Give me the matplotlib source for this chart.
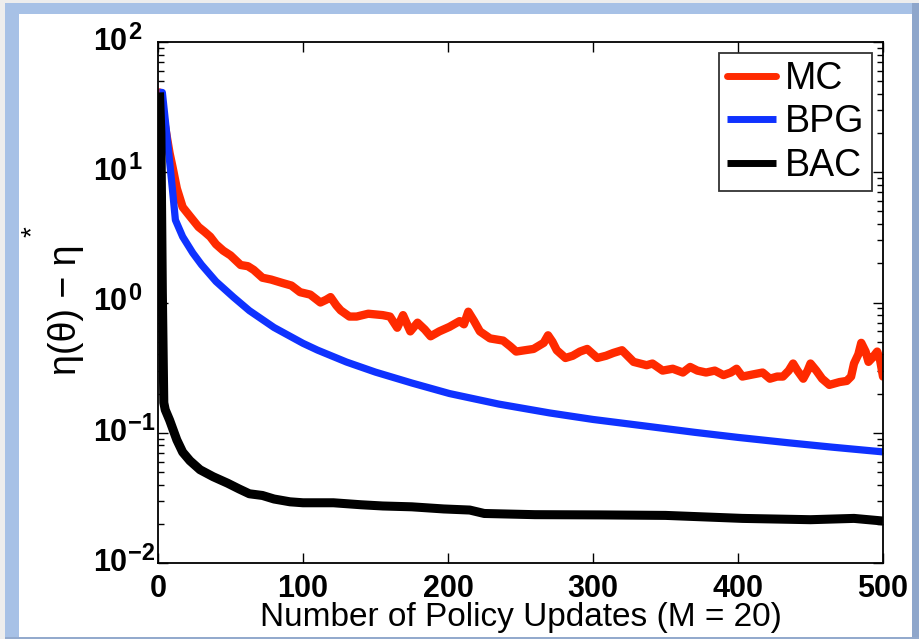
import matplotlib as mpl
mpl.use('Agg')
import matplotlib.pyplot as plt
from matplotlib.patches import Rectangle
from matplotlib.transforms import blended_transform_factory, offset_copy
from matplotlib.ticker import FixedLocator, LogLocator, NullFormatter

plt.rcParams['font.family'] = ['Liberation Sans', 'DejaVu Sans']

# learning curves, error vs number of policy updates
mc_x = [1, 5, 8, 10, 13, 17, 22, 28, 32, 36, 40, 45, 50, 57, 62, 66, 72, 78, 86, 92,
        98, 105, 112, 116, 119, 123, 126, 132, 137, 145, 155, 160, 165, 169, 174, 179, 184, 188, 194, 201,
        208, 211, 214, 218, 222, 229, 238, 243, 247, 253, 259, 266, 269, 272, 275, 281, 286, 291, 296, 303,
        309, 314, 320, 328, 337, 341, 348, 355, 362, 367, 372, 378, 384, 390, 395, 399, 403, 410, 417, 422,
        427, 431, 435, 438, 441, 445, 448, 450, 454, 458, 463, 470, 475, 478, 480, 483, 485, 488, 490, 493,
        496, 498, 500]
mc_y = [41, 22, 14, 11, 7.5, 5.4, 4.6, 3.8, 3.5, 3.2, 2.8, 2.5, 2.3, 1.94, 1.9, 1.78, 1.55, 1.5, 1.41, 1.35,
        1.2, 1.15, 1.0, 1.05, 1.1, 0.95, 0.87, 0.78, 0.78, 0.82, 0.8, 0.78, 0.64, 0.8, 0.6, 0.7, 0.62, 0.55, 0.6, 0.65,
        0.72, 0.68, 0.85, 0.72, 0.6, 0.53, 0.51, 0.46, 0.42, 0.43, 0.44, 0.49, 0.56, 0.5, 0.43, 0.375, 0.39, 0.42, 0.44, 0.375,
        0.39, 0.41, 0.43, 0.35, 0.33, 0.34, 0.30, 0.31, 0.29, 0.32, 0.30, 0.29, 0.30, 0.277, 0.29, 0.31, 0.27, 0.28, 0.29, 0.26,
        0.27, 0.27, 0.30, 0.34, 0.30, 0.26, 0.30, 0.34, 0.30, 0.26, 0.233, 0.245, 0.25, 0.27, 0.34, 0.40, 0.49, 0.42, 0.35, 0.38,
        0.42, 0.36, 0.27]

bpg_x = [1, 3, 7, 10, 12, 17, 24, 30, 40, 52, 63, 80, 100, 110, 130, 150, 175, 201, 235, 270,
         300, 335, 370, 400, 435, 465, 500]
bpg_y = [41, 41, 15.6, 7.3, 4.3, 3.2, 2.4, 1.95, 1.45, 1.1, 0.866, 0.643, 0.486, 0.431, 0.349, 0.292, 0.241, 0.2, 0.166, 0.142,
         0.1265, 0.113, 0.1008, 0.0921, 0.0837, 0.0775, 0.0713]

bac_x = [1, 2, 3, 4, 5, 8, 13, 17, 22, 29, 38, 48, 56, 63, 72, 80, 91, 100, 121, 140,
         155, 175, 197, 215, 225, 260, 305, 350, 403, 450, 480, 500]
bac_y = [41, 20, 1.2, 0.17, 0.15, 0.125, 0.088, 0.071, 0.061, 0.052, 0.046, 0.041, 0.037, 0.034, 0.033, 0.031, 0.0295, 0.029, 0.029, 0.028,
         0.0274, 0.027, 0.026, 0.0255, 0.024, 0.0235, 0.0234, 0.0232, 0.022, 0.0215, 0.022, 0.021]

decades = [-2, -1, 0, 1, 2]

W, H = 919, 639
fig = plt.figure(figsize=(W / 100, H / 100), dpi=100)


def px_rect(x0, y0, x1, y1, color):
    # rectangle given in pixels from the top-left corner
    fig.patches.append(Rectangle((x0 / W, 1 - y1 / H), (x1 - x0) / W, (y1 - y0) / H,
                                 transform=fig.transFigure, color=color, lw=0, zorder=-10))


# window frame
px_rect(0, 0, W, H, '#ededed')
px_rect(5, 3, W, H, '#a7c1e6')
px_rect(912, 3, W, H, '#8ea6cb')
px_rect(5, 637, W, H, '#93aacd')
px_rect(19, 14, 912, 637, 'white')

ax = fig.add_axes([158 / W, 1 - 563 / H, (883 - 158) / W, (563 - 42) / H])
ax.set_facecolor('white')

ax.plot(mc_x, mc_y, color='#ff2a00', lw=6, solid_capstyle='round', label='MC')
ax.plot(bpg_x, bpg_y, color='#0f32ff', lw=5.2, solid_capstyle='butt', label='BPG')
ax.plot(bac_x, bac_y, color='black', lw=6.5, solid_capstyle='butt', label='BAC')

ax.set_yscale('log')
ax.set_xlim(0, 500)
ax.set_ylim(1e-2, 1e2)
ax.xaxis.set_major_locator(FixedLocator([0, 100, 200, 300, 400, 500]))
ax.yaxis.set_major_locator(FixedLocator([10.0 ** d for d in decades]))
ax.yaxis.set_minor_locator(LogLocator(base=10, subs=range(2, 10)))
ax.yaxis.set_major_formatter(NullFormatter())
ax.yaxis.set_minor_formatter(NullFormatter())

ax.tick_params(which='both', direction='in', top=True, right=True, width=1)
ax.tick_params(which='major', length=7)
ax.tick_params(which='minor', length=4)
ax.tick_params(axis='x', labelsize=22, pad=8)
for t in ax.get_xticklabels():
    t.set_fontweight('bold')
for s in ax.spines.values():
    s.set_linewidth(1.3)

# y tick labels: base and exponent set separately
trans = blended_transform_factory(ax.transAxes, ax.transData)
for d in decades:
    ax.text((127 - 158) / 725, 10.0 ** d, '10', transform=trans, ha='right', va='center',
            fontsize=22, fontweight='bold', clip_on=False)
    ax.text((128 - 158) / 725, 10.0 ** d, str(d).replace('-', '\u2212'),
            transform=offset_copy(trans, fig=fig, y=3, units='dots'),
            ha='left', va='baseline', fontsize=17, fontweight='bold', clip_on=False)

fig.text(521 / W, 1 - 626 / H, 'Number of Policy Updates (M = 20)', fontsize=24,
         ha='center', va='baseline')
fig.text(66 / W, 1 - 310 / H, 'η(θ) − η', fontsize=27, rotation=90, ha='center', va='center')
fig.text(33 / W, 1 - 232 / H, '*', fontsize=20, rotation=90, ha='center', va='center')

leg = ax.legend(loc='upper right', fontsize=27, frameon=True, fancybox=False,
                handlelength=1.3, handletextpad=0.25, borderpad=0.2, labelspacing=0.2,
                borderaxespad=0.3)
leg.get_frame().set_edgecolor('black')
leg.get_frame().set_linewidth(1.3)
for ln in leg.get_lines():
    ln.set_linewidth(5)

fig.savefig('out.png', dpi=100)
